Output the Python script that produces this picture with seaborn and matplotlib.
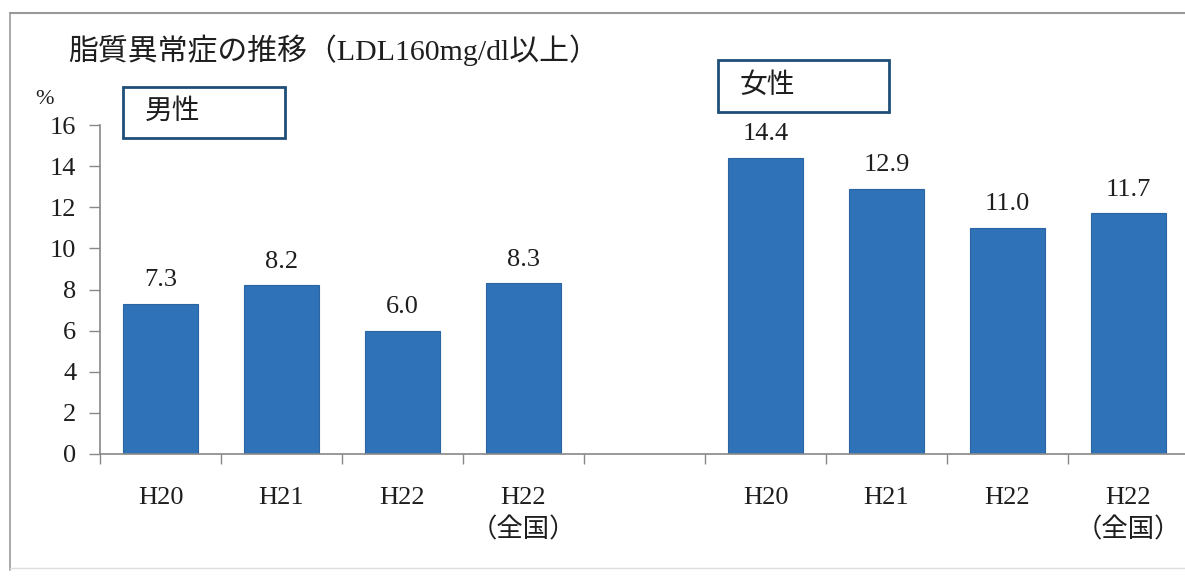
import matplotlib
matplotlib.use("Agg")
import matplotlib.pyplot as plt
from matplotlib.lines import Line2D
from matplotlib.patches import Rectangle
import seaborn as sns
import pandas as pd
import numpy as np

sns.set_theme(style="white")
plt.rcParams["font.family"] = ["Liberation Serif", "Noto Sans CJK JP"]

# data
periods = ["H20", "H21", "H22", "H22\n（全国）"]
male = [7.3, 8.2, 6.0, 8.3]
female = [14.4, 12.9, 11.0, 11.7]
title = "脂質異常症の推移（LDL160mg/dl以上）"
yticks = [0, 2, 4, 6, 8, 10, 12, 14, 16]

keys = [f"男性{p}" for p in periods] + ["gap"] + [f"女性{p}" for p in periods]
values = male + [np.nan] + female
df = pd.DataFrame({"key": keys, "value": values})
tick_labels = periods + [""] + periods

bar_color = "#2f72b7"
box_color = "#1f4e79"
text_color = "#1e1e1e"

fig = plt.figure(figsize=(11.85, 5.76), dpi=100)
ax = fig.add_axes([100 / 1185, 1 - 454 / 576, 1089 / 1185, (454 - 125) / 576])

sns.barplot(data=df, x="key", y="value", order=keys, color=bar_color,
            width=0.62, saturation=1, ax=ax, edgecolor="#2a64a3", linewidth=0.8)

ax.set_ylim(0, 16)
ax.set_xlim(-0.5, len(keys) - 0.5)
ax.set_yticks(yticks)
ax.set_yticklabels([str(t) for t in yticks], fontsize=19, color=text_color)
ax.set_xticks(range(len(keys)))
ax.set_xticklabels(tick_labels, fontsize=19, color=text_color, linespacing=1.4,
                   va="top")
ax.set_xticks(np.arange(-0.5, len(keys), 1.0), minor=True)
ax.tick_params(axis="x", which="major", length=0, pad=24)
ax.tick_params(axis="x", which="minor", length=7, width=1, color="#888888",
               direction="out", bottom=True)
ax.tick_params(axis="y", length=8, width=1, color="#888888", direction="out",
               left=True, pad=9)
ax.set_xlabel("")
ax.set_ylabel("")
for s in ["top", "right"]:
    ax.spines[s].set_visible(False)
for s in ["left", "bottom"]:
    ax.spines[s].set_color("#888888")
    ax.spines[s].set_linewidth(1.2)

# value labels above bars
for i, v in enumerate(values):
    if not np.isnan(v):
        ax.annotate(f"{v:.1f}", (i, v), xytext=(0, 9), textcoords="offset points",
                    ha="center", va="bottom", fontsize=19, color=text_color)

# title and unit
fig.text(68 / 1185, 1 - 50 / 576, title, fontsize=21.5, ha="left", va="center",
         color=text_color)
fig.text(35 / 1185, 1 - 100 / 576, "%", fontsize=16, ha="left", va="center",
         color=text_color)

# group boxes
for (x0, y0, x1, y1, label) in [(123, 87, 285, 138, "男性"), (718, 60, 889, 112, "女性")]:
    fig.patches.append(Rectangle((x0 / 1185, 1 - y1 / 576), (x1 - x0) / 1185,
                                 (y1 - y0) / 576, transform=fig.transFigure,
                                 fill=True, facecolor="white", edgecolor=box_color,
                                 linewidth=2))
    fig.text((x0 + 22) / 1185, 1 - (y0 + y1) / 2 / 576, label, fontsize=20,
             ha="left", va="center", color=text_color)

# outer frame
frame_color = "#999999"
fig.add_artist(Line2D([10 / 1185, 10 / 1185], [1 - 13 / 576, 1 - 570 / 576],
                      transform=fig.transFigure, color=frame_color, lw=1.2))
fig.add_artist(Line2D([10 / 1185, 1.0], [1 - 13 / 576, 1 - 13 / 576],
                      transform=fig.transFigure, color=frame_color, lw=1.5))
fig.add_artist(Line2D([10 / 1185, 1.0], [1 - 568 / 576, 1 - 568 / 576],
                      transform=fig.transFigure, color="#dddddd", lw=1.0))

fig.savefig("out.png", dpi=100)
